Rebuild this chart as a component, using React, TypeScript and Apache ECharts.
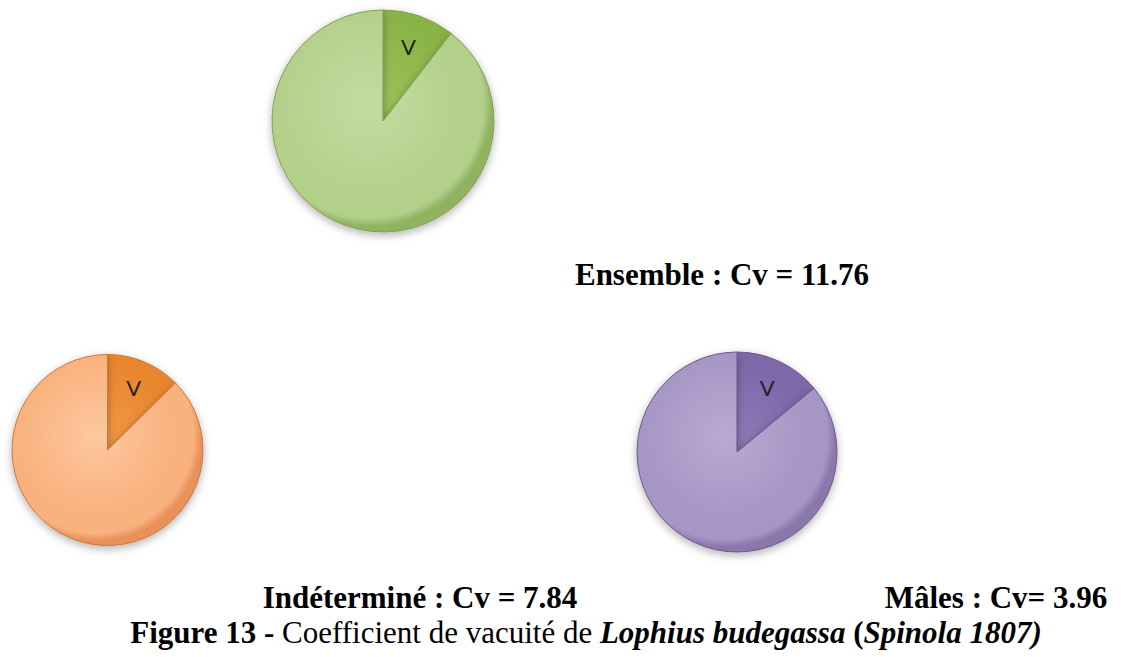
import React, { useEffect, useRef } from "react";
import * as echarts from "echarts";

// ---- data ----
const groupNames = ["Ensemble", "Indéterminé", "Mâles"];
const sliceNames = ["V", ""];
const vShares = [10.5, 12.6, 14.0];
const restShares = [89.5, 87.4, 86.0];
const cvLabels = ["Ensemble : Cv = 11.76", "Indéterminé : Cv = 7.84", "Mâles : Cv= 3.96"];
const captionBold = "Figure 13 - ";
const captionRegular = "Coefficient de vacuité de ";
const captionSpecies = "Lophius budegassa";
const captionAuthor = "Spinola 1807)";

// ---- layout / style ----
const pieLayout = [
  { cx: 383, cy: 121, r: 111 },
  { cx: 107.5, cy: 450, r: 95.5 },
  { cx: 737, cy: 452, r: 100 },
];
const labelPos = [
  { x: 722, y: 274 },
  { x: 420, y: 597 },
  { x: 996, y: 597 },
];
const palettes = [
  {
    rest: ["#c3dca1", "#b3d08b", "#90b362"],
    v: ["#9cc35d", "#8ab345", "#709a30"],
    border: "#7f9f52",
  },
  {
    rest: ["#fdc8a0", "#f9b17e", "#e8925a"],
    v: ["#f29a48", "#e8852d", "#cf6d1f"],
    border: "#c9783c",
  },
  {
    rest: ["#b8aad3", "#a696c5", "#8a78ad"],
    v: ["#907bba", "#7e67a9", "#684f93"],
    border: "#6b588d",
  },
];

function radial(cx: number, cy: number, r: number, stops: string[]) {
  return {
    type: "radial",
    x: cx - r * 0.12,
    y: cy - r * 0.15,
    r: r * 1.1,
    global: true,
    colorStops: [
      { offset: 0, color: stops[0] },
      { offset: 0.75, color: stops[1] },
      { offset: 0.93, color: stops[1] },
      { offset: 1, color: stops[2] },
    ],
  };
}

export default function App() {
  const ref = useRef<HTMLDivElement>(null);
  useEffect(() => {
    if (!ref.current) return;
    const chart = echarts.init(ref.current, null, { renderer: "svg" });
    const series = groupNames.map((name, i) => {
      const { cx, cy, r } = pieLayout[i];
      const pal = palettes[i];
      const total = vShares[i] + restShares[i];
      const midDeg = ((vShares[i] / total) * 360) / 2;
      const a = (midDeg * Math.PI) / 180;
      const extra = 0.18 * r;
      const offset = [extra * Math.sin(a), -extra * Math.cos(a)];
      return {
        type: "pie",
        name,
        center: [cx, cy],
        radius: [0, r],
        startAngle: 90,
        clockwise: true,
        silent: true,
        avoidLabelOverlap: false,
        labelLine: { show: false },
        itemStyle: {
          borderColor: pal.border,
          borderWidth: 1,
          shadowBlur: 8,
          shadowOffsetY: 3,
          shadowColor: "rgba(0,0,0,0.3)",
        },
        data: [
          {
            name: sliceNames[0],
            value: vShares[i],
            itemStyle: { color: radial(cx, cy, r, pal.v) },
            label: {
              show: true,
              position: "inside",
              formatter: "{b}",
              offset,
              color: "#222",
              fontFamily: "Lato",
              fontSize: 22,
            },
          },
          {
            name: sliceNames[1],
            value: restShares[i],
            itemStyle: { color: radial(cx, cy, r, pal.rest) },
            label: { show: false },
          },
        ],
      };
    });

    const textEls = cvLabels.map((t, i) => ({
      type: "text",
      x: labelPos[i].x,
      y: labelPos[i].y,
      style: {
        text: t,
        fontFamily: "Liberation Serif",
        fontWeight: "bold",
        fontSize: 31,
        fill: "#000",
        align: "center",
        verticalAlign: "middle",
      },
    }));

    const caption = {
      type: "text",
      x: 586,
      y: 632,
      style: {
        text:
          "{b|" + captionBold + "}{r|" + captionRegular + "}{bi|" + captionSpecies +
          "}{r| }{b|(}{bi|" + captionAuthor + "}",
        align: "center",
        verticalAlign: "middle",
        fontFamily: "Liberation Serif",
        fontSize: 31,
        fill: "#000",
        rich: {
          b: { fontFamily: "Liberation Serif", fontSize: 31, fontWeight: "bold", fill: "#000" },
          r: { fontFamily: "Liberation Serif", fontSize: 31, fill: "#000" },
          bi: {
            fontFamily: "Liberation Serif",
            fontSize: 31,
            fontWeight: "bold",
            fontStyle: "italic",
            fill: "#000",
          },
        },
      },
    };

    chart.setOption({
      animation: false,
      backgroundColor: "#ffffff",
      series,
      graphic: [...textEls, caption],
    } as any);
    return () => chart.dispose();
  }, []);
  return (
    <div
      ref={ref}
      style={{ position: "fixed", left: 0, top: 0, width: 1121, height: 657 }}
    />
  );
}
